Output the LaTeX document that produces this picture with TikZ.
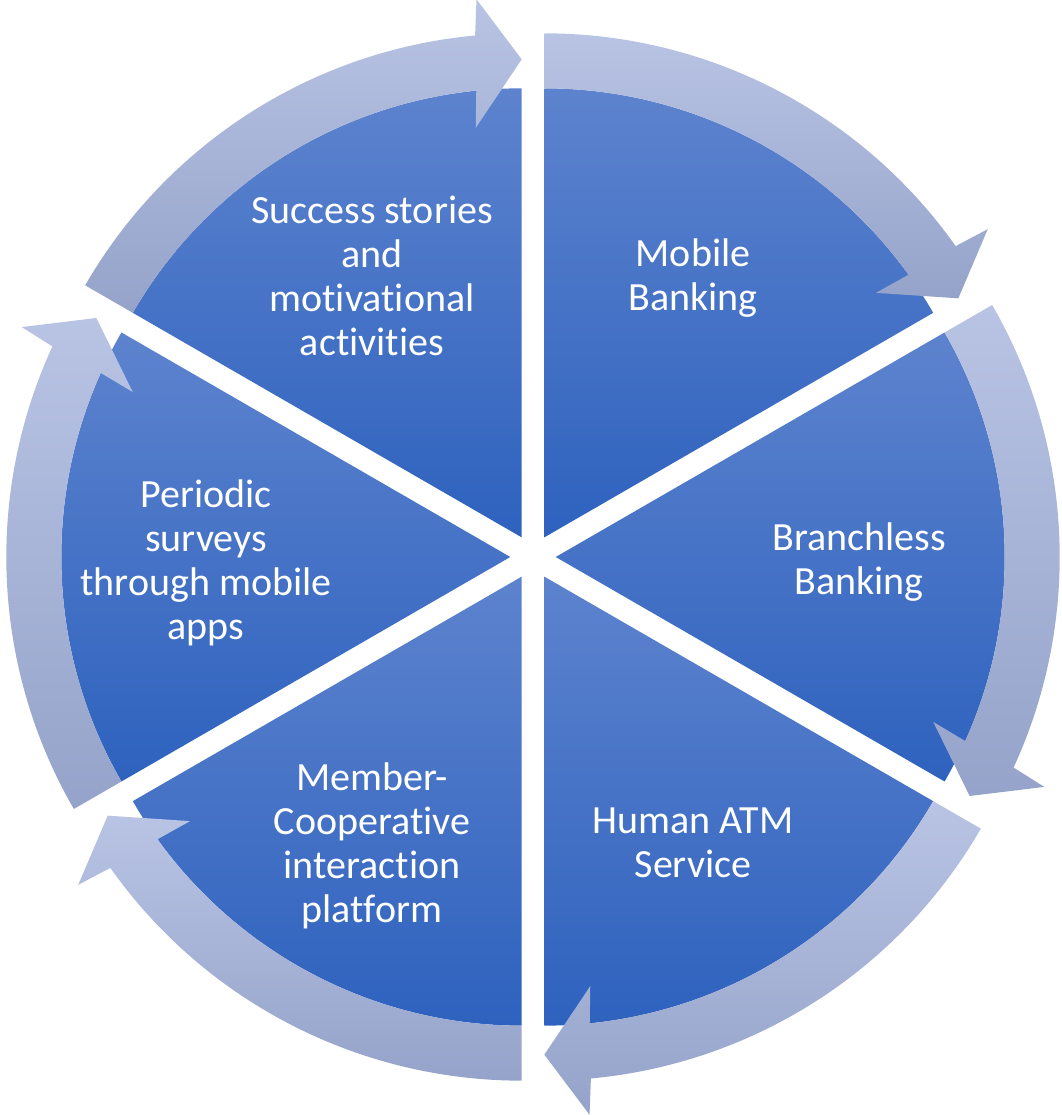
\documentclass[tikz,border=0pt]{standalone}
\usepackage{fontspec}
\setmainfont{Carlito}[Ligatures={NoCommon,NoContextual}]
\usetikzlibrary{calc}
\definecolor{SegTopClr}{RGB}{93,131,206}
\definecolor{SegBotClr}{RGB}{46,98,190}
\definecolor{ArrTopClr}{RGB}{185,196,228}
\definecolor{ArrBotClr}{RGB}{149,163,202}

\begin{document}
\begin{tikzpicture}[x=1pt,y=1pt,
  segment/.style={top color=SegTopClr,bottom color=SegBotClr},
  arrowband/.style={top color=ArrTopClr,bottom color=ArrBotClr},
  seglabel/.style={text=white,align=center,inner sep=0pt,font=\fontsize{40}{44}\selectfont}]
\useasboundingbox (0,0) rectangle (1061,1115);

\coordinate (O) at (533,558);
\coordinate (mob) at ($(O)+(60:22.7)$);
\coordinate (bra) at ($(O)+(0:22.7)$);
\coordinate (hum) at ($(O)+(-60:22.7)$);
\coordinate (mem) at ($(O)+(-120:22.7)$);
\coordinate (per) at ($(O)+(180:22.7)$);
\coordinate (suc) at ($(O)+(120:22.7)$);

\path[segment] (mob) -- ++(90:449) arc[start angle=90,end angle=30,radius=449pt] -- cycle;
\path[segment] (bra) -- ++(30:449) arc[start angle=30,end angle=-30,radius=449pt] -- cycle;
\path[segment] (hum) -- ++(-30:449) arc[start angle=-30,end angle=-90,radius=449pt] -- cycle;
\path[segment] (mem) -- ++(-90:449) arc[start angle=-90,end angle=-150,radius=449pt] -- cycle;
\path[segment] (per) -- ++(-150:449) arc[start angle=-150,end angle=-210,radius=449pt] -- cycle;
\path[segment] (suc) -- ++(150:449) arc[start angle=150,end angle=90,radius=449pt] -- cycle;

\path[arrowband] ($(mob)+(90:504)$) arc[start angle=90,end angle=35.3,radius=504pt]
  -- ($(mob)+(34.8:540)$) -- ($(mob)+(30:478)$) -- ($(mob)+(36.4:412)$) -- ($(mob)+(35.8:449)$)
  arc[start angle=35.8,end angle=90,radius=449pt] -- cycle;
\path[arrowband] ($(bra)+(30:504)$) arc[start angle=30,end angle=-24.7,radius=504pt]
  -- ($(bra)+(-25.2:540)$) -- ($(bra)+(-30:478)$) -- ($(bra)+(-23.6:412)$) -- ($(bra)+(-24.2:449)$)
  arc[start angle=-24.2,end angle=30,radius=449pt] -- cycle;
\path[arrowband] ($(hum)+(-30:504)$) arc[start angle=-30,end angle=-84.7,radius=504pt]
  -- ($(hum)+(-85.2:540)$) -- ($(hum)+(-90:478)$) -- ($(hum)+(-83.6:412)$) -- ($(hum)+(-84.2:449)$)
  arc[start angle=-84.2,end angle=-30,radius=449pt] -- cycle;
\path[arrowband] ($(mem)+(-90:504)$) arc[start angle=-90,end angle=-144.7,radius=504pt]
  -- ($(mem)+(-145.2:540)$) -- ($(mem)+(-150:478)$) -- ($(mem)+(-143.6:412)$) -- ($(mem)+(-144.2:449)$)
  arc[start angle=-144.2,end angle=-90,radius=449pt] -- cycle;
\path[arrowband] ($(per)+(-150:504)$) arc[start angle=-150,end angle=-204.7,radius=504pt]
  -- ($(per)+(-205.2:540)$) -- ($(per)+(-210:478)$) -- ($(per)+(-203.6:412)$) -- ($(per)+(-204.2:449)$)
  arc[start angle=-204.2,end angle=-150,radius=449pt] -- cycle;
\path[arrowband] ($(suc)+(150:504)$) arc[start angle=150,end angle=95.3,radius=504pt]
  -- ($(suc)+(94.8:540)$) -- ($(suc)+(90:478)$) -- ($(suc)+(96.4:412)$) -- ($(suc)+(95.8:449)$)
  arc[start angle=95.8,end angle=150,radius=449pt] -- cycle;

\node[seglabel] (tMob) at (693,836.5) {Mobile\\Banking};
\node[seglabel] (tBra) at (859,553) {Branchless\\Banking};
\node[seglabel] (tHum) at (693,272.5) {Human ATM\\Service};
\node[seglabel] (tMem) at (372,269.5) {Member-\\Cooperative\\interaction\\platform};
\node[seglabel] (tPer) at (206,552.5) {Periodic\\surveys\\through mobile\\apps};
\node[seglabel] (tSuc) at (372,839) {Success stories\\and\\motivational\\activities};

\end{tikzpicture}
\end{document}
